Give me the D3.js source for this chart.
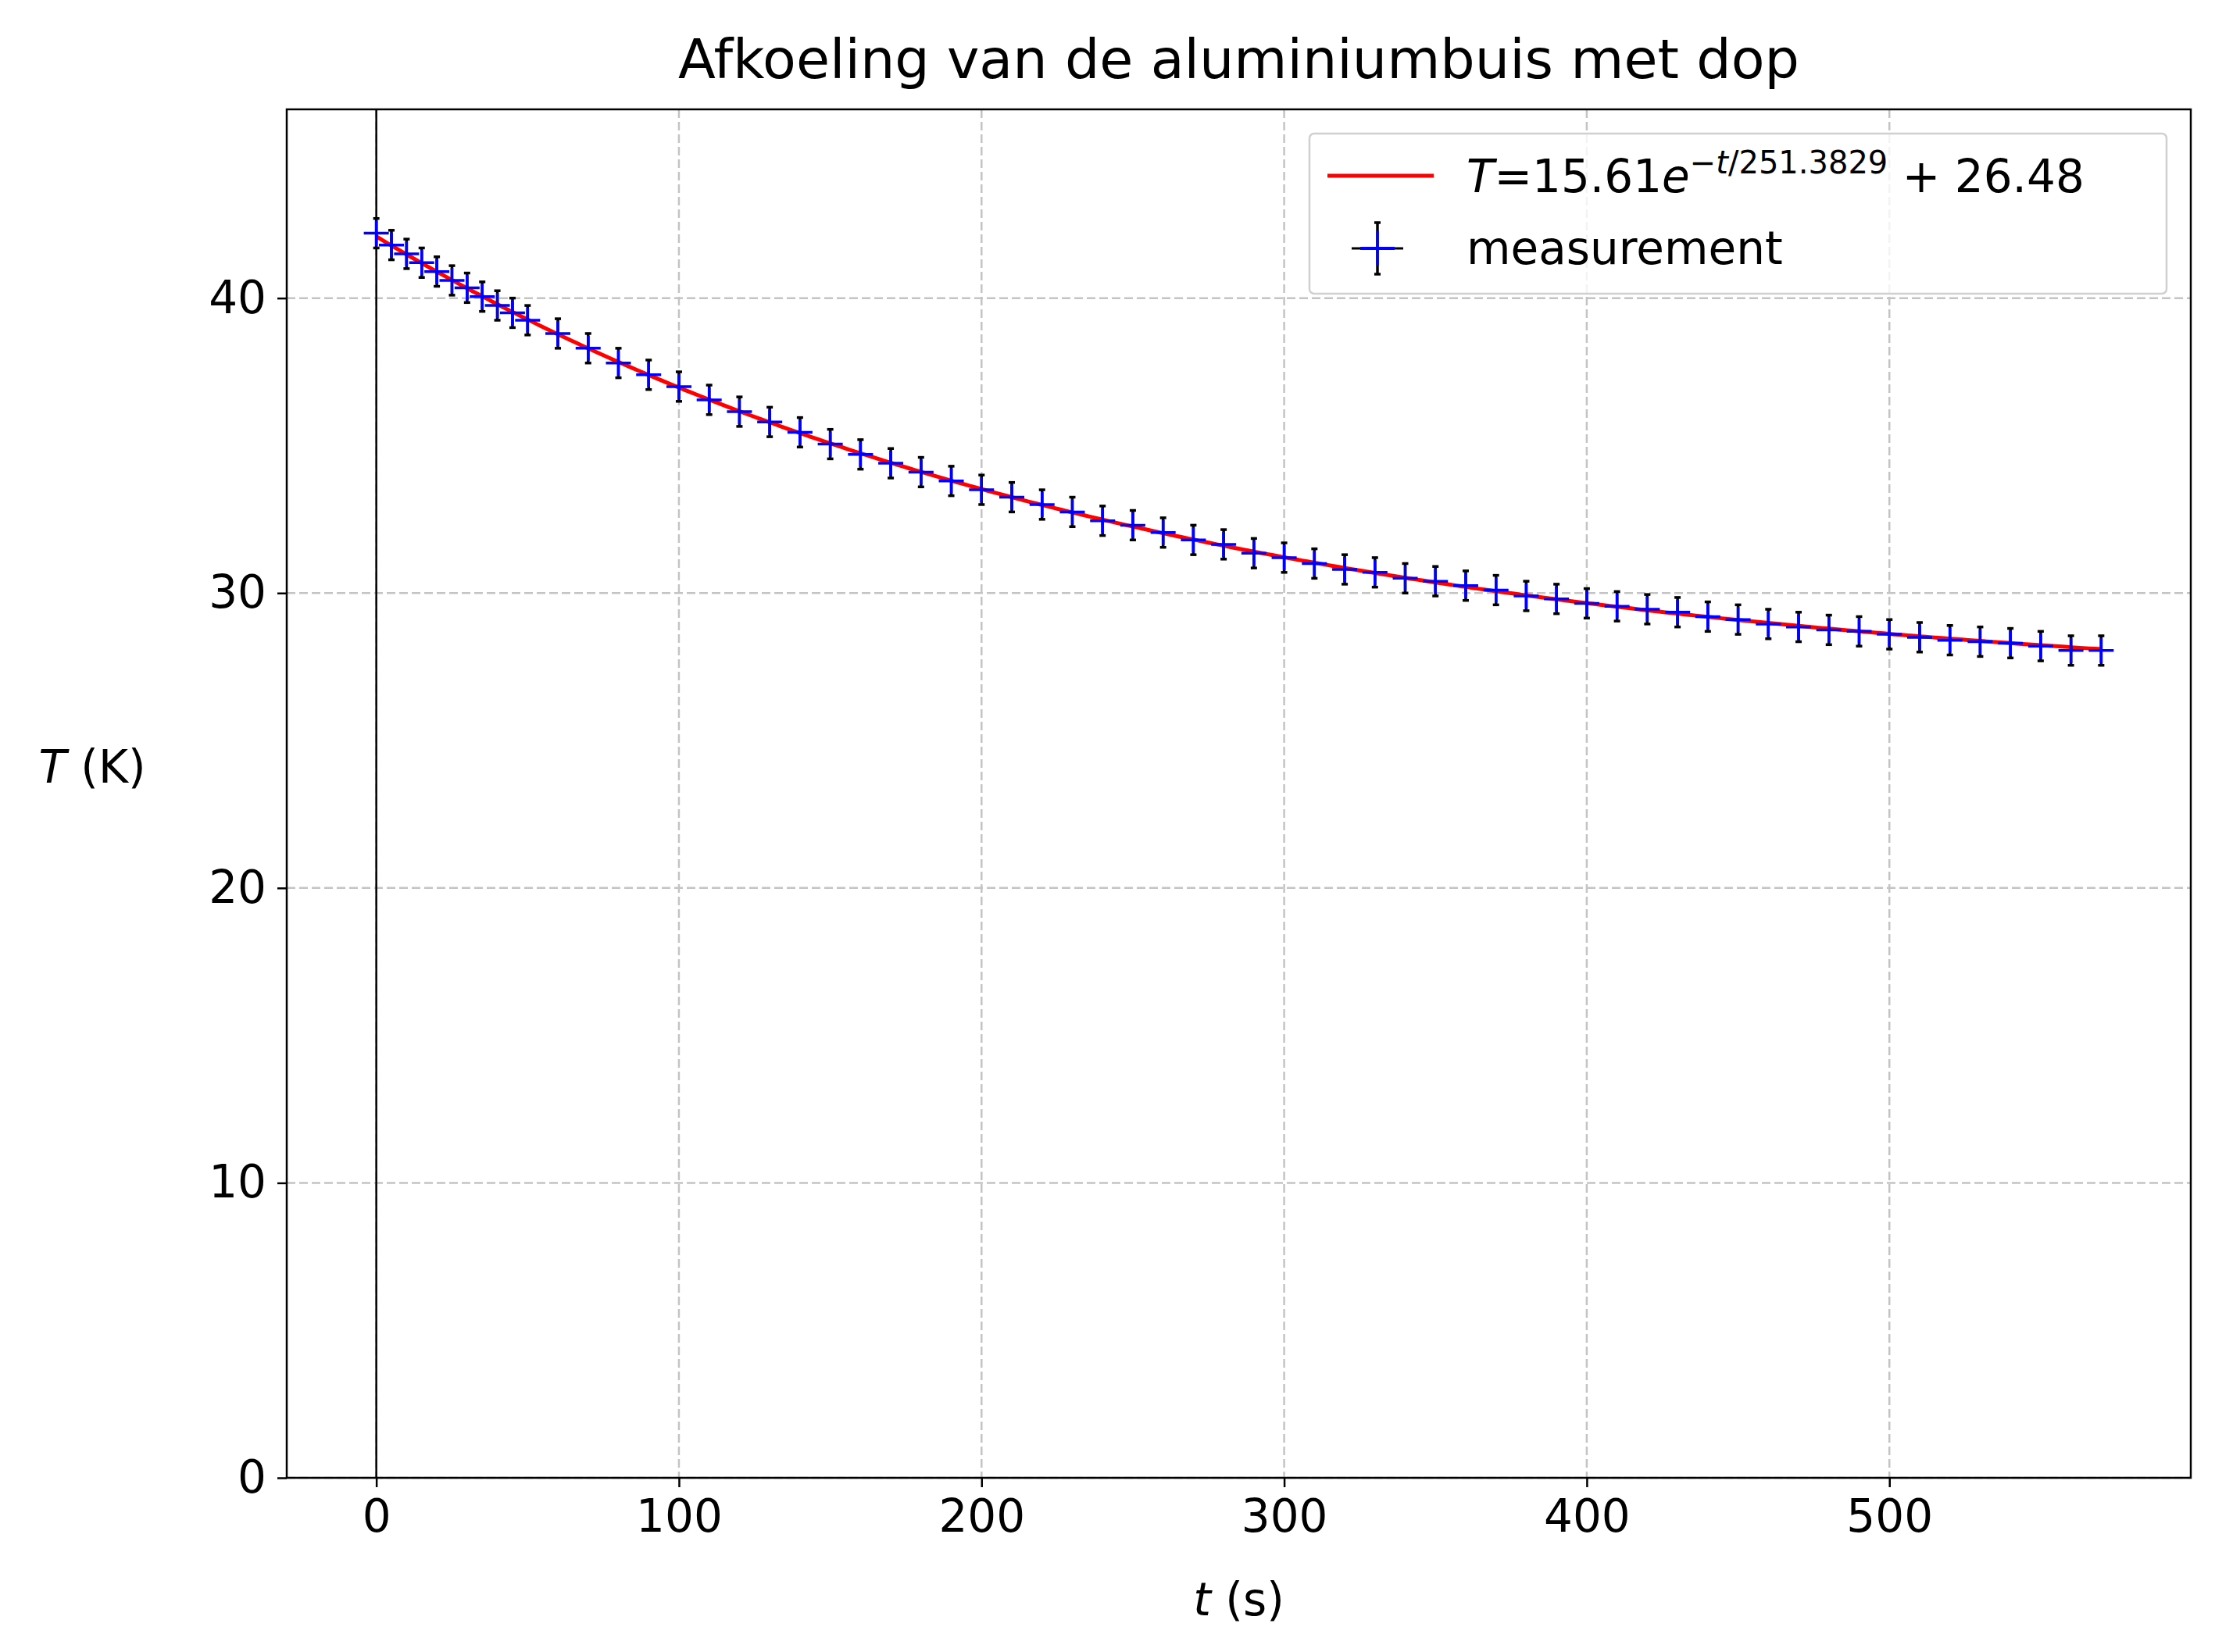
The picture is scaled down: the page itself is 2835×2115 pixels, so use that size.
<!DOCTYPE html>
<html><head><meta charset="utf-8">
<script src="https://cdn.jsdelivr.net/npm/d3@7"></script>
<style>body{margin:0;background:#fff}text{font-family:"DejaVu Sans",sans-serif}</style>
</head><body><svg id="c" width="2835" height="2115"></svg>
<script>
const times=[0,5,10,15,20,25,30,35,40,45,50,60,70,80,90,100,110,120,130,140,150,160,170,180,190,200,210,220,230,240,250,260,270,280,290,300,310,320,330,340,350,360,370,380,390,400,410,420,430,440,450,460,470,480,490,500,510,520,530,540,550,560,570];
const temps=[42.2,41.8,41.5,41.2,40.9,40.6,40.35,40.05,39.75,39.5,39.25,38.8,38.3,37.8,37.4,37.0,36.55,36.15,35.8,35.45,35.05,34.7,34.4,34.1,33.8,33.5,33.25,33.0,32.75,32.45,32.3,32.05,31.8,31.65,31.35,31.2,31.0,30.8,30.7,30.5,30.4,30.25,30.1,29.9,29.8,29.65,29.55,29.45,29.35,29.2,29.1,28.95,28.85,28.75,28.7,28.6,28.5,28.4,28.35,28.3,28.2,28.05,28.05];
const yErr=0.5;
const fitA=15.61, fitTau=251.3829, fitC=26.48;
const xTicks=[0,100,200,300,400,500], yTicks=[0,10,20,30,40];
const L=367,R=2804,T=140,B=1892;
const svg=d3.select("#c");
const x=d3.scaleLinear().domain([-29.6,599.6]).range([L,R]);
const y=d3.scaleLinear().domain([0,46.4]).range([B,T]);
const g=svg.append("g");
g.selectAll(".gx").data(xTicks).join("line").attr("x1",d=>x(d)).attr("x2",d=>x(d)).attr("y1",T).attr("y2",B).attr("stroke","#c4c4c4").attr("stroke-width",2.5).attr("stroke-dasharray","11,5");
g.selectAll(".gy").data(yTicks).join("line").attr("y1",d=>y(d)).attr("y2",d=>y(d)).attr("x1",L).attr("x2",R).attr("stroke","#c4c4c4").attr("stroke-width",2.5).attr("stroke-dasharray","11,5");
g.append("line").attr("x1",x(0)).attr("x2",x(0)).attr("y1",T).attr("y2",B).attr("stroke","#000").attr("stroke-width",2.5);
const ax=svg.append("g").attr("transform",`translate(0,${B})`).call(d3.axisBottom(x).tickValues(xTicks).tickSize(12).tickPadding(16));
const ay=svg.append("g").attr("transform",`translate(${L},0)`).call(d3.axisLeft(y).tickValues(yTicks).tickSize(12).tickPadding(14));
[ax,ay].forEach(a=>{a.selectAll("text").attr("font-size",58).attr("font-family","DejaVu Sans");a.selectAll("line").attr("stroke-width",2.5);a.select(".domain").remove();});
svg.append("rect").attr("x",L).attr("y",T).attr("width",R-L).attr("height",B-T).attr("fill","none").attr("stroke","#000").attr("stroke-width",2.5);
const fitPts=d3.range(0,571,2).map(t=>[t,fitA*Math.exp(-t/fitTau)+fitC]);
svg.append("path").datum(fitPts).attr("d",d3.line().x(d=>x(d[0])).y(d=>y(d[1]))).attr("fill","none").attr("stroke","#ff0000").attr("stroke-width",5);
const data=times.map((t,i)=>({t,v:temps[i]}));
const eb=svg.append("g");
data.forEach(d=>{
  const cx=x(d.t),y1=y(d.v+yErr),y2=y(d.v-yErr);
  eb.append("line").attr("x1",cx).attr("x2",cx).attr("y1",y1).attr("y2",y2).attr("stroke","#000").attr("stroke-width",3.5);
  [y1,y2].forEach(yy=>eb.append("line").attr("x1",cx-4).attr("x2",cx+4).attr("y1",yy).attr("y2",yy).attr("stroke","#000").attr("stroke-width",3.5));
  eb.append("line").attr("x1",cx).attr("x2",cx).attr("y1",y1+3).attr("y2",y2-3).attr("stroke","#0000ff").attr("stroke-width",3);
  eb.append("line").attr("x1",cx-16).attr("x2",cx+16).attr("y1",y(d.v)).attr("y2",y(d.v)).attr("stroke","#0000ff").attr("stroke-width",3.5);
  eb.append("line").attr("x1",cx).attr("x2",cx).attr("y1",y(d.v)-16).attr("y2",y(d.v)+16).attr("stroke","#0000ff").attr("stroke-width",3.5);
});
svg.append("text").attr("x",(L+R)/2).attr("y",100).attr("text-anchor","middle").attr("font-size",70).text("Afkoeling van de aluminiumbuis met dop");
const xl=svg.append("text").attr("x",(L+R)/2).attr("y",2068).attr("text-anchor","middle").attr("font-size",58);
xl.append("tspan").attr("font-style","italic").text("t");xl.append("tspan").text(" (s)");
const yl=svg.append("text").attr("x",118).attr("y",1002).attr("text-anchor","middle").attr("font-size",58);
yl.append("tspan").attr("font-style","italic").text("T");yl.append("tspan").text(" (K)");
const lg=svg.append("g");
lg.append("rect").attr("x",1676).attr("y",171).attr("width",1097).attr("height",205).attr("rx",6).attr("fill","#fff").attr("fill-opacity",0.8).attr("stroke","#d0d0d0").attr("stroke-width",2.5);
lg.append("line").attr("x1",1699).attr("x2",1835).attr("y1",225).attr("y2",225).attr("stroke","#ff0000").attr("stroke-width",5);
const lt=lg.append("text").attr("x",1877).attr("y",246).attr("font-size",58);
lt.append("tspan").attr("font-style","italic").text("T");
lt.append("tspan").text("=15.61");
lt.append("tspan").attr("font-style","italic").text("e");
lt.append("tspan").attr("font-size",40).attr("dy",-24).text("−");
lt.append("tspan").attr("font-size",40).attr("font-style","italic").text("t");
lt.append("tspan").attr("font-size",40).text("/251.3829");
lt.append("tspan").attr("dy",24).text(" + 26.48");
const mx=1763,my=318;
lg.append("line").attr("x1",mx).attr("x2",mx).attr("y1",my-33).attr("y2",my+33).attr("stroke","#000").attr("stroke-width",3.5);
[my-33,my+33].forEach(yy=>lg.append("line").attr("x1",mx-4).attr("x2",mx+4).attr("y1",yy).attr("y2",yy).attr("stroke","#000").attr("stroke-width",3.5));
lg.append("line").attr("x1",mx-33).attr("x2",mx+33).attr("y1",my).attr("y2",my).attr("stroke","#000").attr("stroke-width",3);
lg.append("line").attr("x1",mx-22).attr("x2",mx+22).attr("y1",my).attr("y2",my).attr("stroke","#0000ff").attr("stroke-width",4);
lg.append("line").attr("x1",mx).attr("x2",mx).attr("y1",my-22).attr("y2",my+22).attr("stroke","#0000ff").attr("stroke-width",3.5);
lg.append("text").attr("x",1877).attr("y",338).attr("font-size",58).text("measurement");
</script></body></html>
